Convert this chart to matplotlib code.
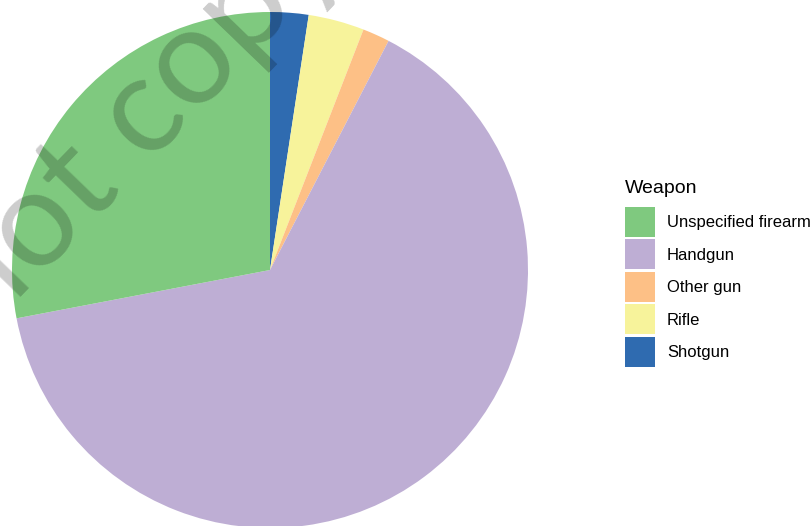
import numpy as np
import matplotlib.pyplot as plt

# weapon shares (percent of firearm homicides)
weapons = ['Unspecified firearm', 'Handgun', 'Other gun', 'Rifle', 'Shotgun']
share = [28.0, 64.4, 1.7, 3.5, 2.4]
colors = ['#7FC97F', '#BEAED4', '#FDC086', '#F7F39B', '#2F6BB0']

plt.rcParams['font.family'] = ['Liberation Sans', 'DejaVu Sans']

W, H = 812, 526
fig = plt.figure(figsize=(W / 100, H / 100), dpi=100)

cx, cy, r = 270, 270, 258
ax = fig.add_axes([(cx - r) / W, (H - cy - r) / H, 2 * r / W, 2 * r / H])

# pie goes clockwise from 12 o'clock, last legend entry first
wedges, _ = ax.pie(share[::-1], colors=colors[::-1], startangle=90,
                   counterclock=False, radius=1.0)
ax.set_xlim(-1, 1)
ax.set_ylim(-1, 1)
ax.set_aspect('equal')
ax.axis('off')

# legend: title drawn separately so the gap under it can be set
fig.text(625 / W, 1 - 193 / H, 'Weapon', fontsize=14, va='baseline')
handles = wedges[::-1]
leg = fig.legend(handles, weapons, loc='upper left',
                 bbox_to_anchor=(625 / W, 1 - 207 / H),
                 frameon=False, fontsize=12, handlelength=1.8,
                 handleheight=2.39, handletextpad=0.72, labelspacing=0.15,
                 borderpad=0, borderaxespad=0)

# watermark, placed so the "c" of "copy" is centred on (145, 118) px
mark = 'Do not copy'
wm = dict(fontsize=98, family='Lato')
rot = np.radians(46)
rend = fig.canvas.get_renderer()

def text_width(s):
    t = fig.text(0, 0, s, **wm)
    w = t.get_window_extent(rend).width
    t.remove()
    return w

along = text_width('Do not c') - text_width('c') / 2 - text_width(mark) / 2
up = 0.253 * wm['fontsize'] * 100 / 72
c_x, c_y = 145, 118
ax_x = c_x - along * np.cos(rot) + up * np.sin(rot)
ax_y = c_y + along * np.sin(rot) + up * np.cos(rot)
fig.text(ax_x / W, 1 - ax_y / H, mark, color='black', alpha=0.2,
         rotation=np.degrees(rot), ha='center', va='baseline',
         rotation_mode='anchor', **wm)

plt.savefig('out.png', dpi=100)
